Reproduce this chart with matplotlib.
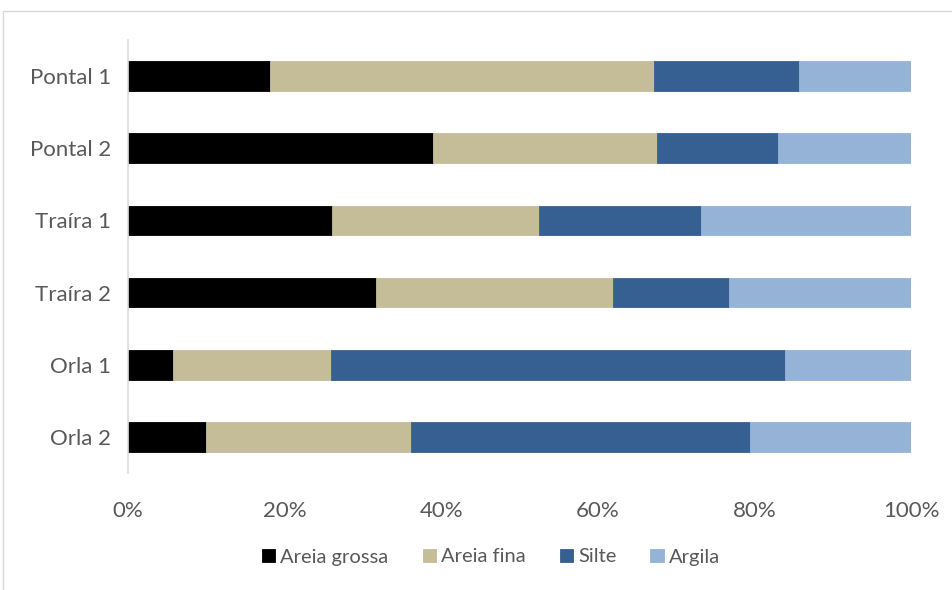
import matplotlib
matplotlib.use("Agg")
import matplotlib.pyplot as plt
from matplotlib.patches import Rectangle
import numpy as np

categories = ["Pontal 1", "Pontal 2", "Traíra 1", "Traíra 2", "Orla 1", "Orla 2"]
series_names = ["Areia grossa", "Areia fina", "Silte", "Argila"]
areia_grossa = [18.1, 39.0, 26.1, 31.6, 5.7, 9.9]
areia_fina = [49.0, 28.5, 26.4, 30.3, 20.2, 26.2]
silte = [18.6, 15.5, 20.7, 14.8, 58.0, 43.3]
argila = [14.3, 17.0, 26.8, 23.2, 16.1, 20.6]
colors = ["#000000", "#C4BD97", "#376092", "#95B3D7"]
xticklabels = ["0%", "20%", "40%", "60%", "80%", "100%"]

plt.rcParams['font.family'] = ['Lato', 'DejaVu Sans']
W, H = 953, 590
fig = plt.figure(figsize=(W / 100, H / 100), dpi=100)
ax = fig.add_axes([128 / W, 1 - 473 / H, (911.3 - 128) / W, (473 - 40) / H])

data = np.array([areia_grossa, areia_fina, silte, argila])
totals = data.sum(axis=0)
data = data / totals * 100
y = np.arange(len(categories))
left = np.zeros(len(categories))
for vals, name, c in zip(data, series_names, colors):
    ax.barh(y, vals, left=left, height=0.41, color=c, label=name,
            edgecolor=c, linewidth=0.6)
    left += vals

ax.set_xlim(0, 100)
ax.set_ylim(len(categories) - 0.5, -0.5)
ax.set_yticks(y)
ax.set_yticklabels(categories)
ax.set_xticks(np.linspace(0, 100, 6))
ax.set_xticklabels(xticklabels)
for s in ["top", "right", "bottom"]:
    ax.spines[s].set_visible(False)
ax.spines["left"].set_color("#D9D9D9")
ax.spines["left"].set_linewidth(1.2)
ax.tick_params(axis="both", length=0, labelsize=16, colors="#595959", pad=12)
ax.tick_params(axis="x", pad=20)

leg = fig.legend(loc="center", bbox_to_anchor=(491 / W, 1 - 557 / H), ncol=4,
                 frameon=False, fontsize=14.5, handlelength=0.65, handleheight=0.65,
                 handletextpad=0.25, columnspacing=1.7, labelcolor="#595959")

fig.add_artist(Rectangle((3.5 / W, -0.01), 2, 1 - 10.5 / H + 0.01,
                         transform=fig.transFigure, fill=False,
                         edgecolor="#D9D9D9", linewidth=1))

fig.savefig("out.png", dpi=100)
